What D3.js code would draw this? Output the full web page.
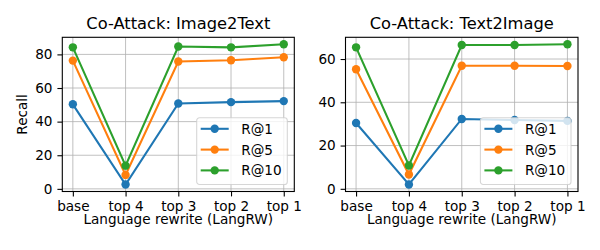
<!DOCTYPE html>
<html>
<head>
<meta charset="utf-8">
<script src="https://cdn.jsdelivr.net/npm/d3@7"></script>
<style>
  body { margin: 0; background: #fff; }
  text { font-family: "DejaVu Sans", sans-serif; fill: #000; }
</style>
</head>
<body>
<div id="chart"></div>
<script>
// data
var steps = ["base", "top 4", "top 3", "top 2", "top 1"];
var seriesNames = ["R@1", "R@5", "R@10"];
var colors = ["#1f77b4", "#ff7f0e", "#2ca02c"];

var i2tR1 = [50.3, 2.6, 50.8, 51.6, 52.2];
var i2tR5 = [76.3, 8.3, 75.8, 76.5, 78.3];
var i2tR10 = [84.2, 13.8, 84.7, 84.2, 86.0];
var i2tTicks = [0, 20, 40, 60, 80];

var t2iR1 = [30.4, 2.0, 32.3, 31.8, 31.4];
var t2iR5 = [55.3, 6.6, 56.9, 56.9, 56.8];
var t2iR10 = [65.4, 10.8, 66.5, 66.5, 66.8];
var t2iTicks = [0, 20, 40, 60];

var svgWidth = 600;
var svgHeight = 250;

var svg = d3.select("#chart")
  .append("svg")
  .attr("width", svgWidth)
  .attr("height", svgHeight);

var panelTop = 37.3;
var panelBottom = 191.5;

function drawPanel(left, right, title, data, ticks, showYLabel) {
  var all = d3.merge(data);
  var ext = d3.extent(all);
  var pad = (ext[1] - ext[0]) * 0.05; // matplotlib-ish margins

  var x = d3.scaleLinear().domain([-0.2, steps.length - 1 + 0.2]).range([left, right]);
  var y = d3.scaleLinear().domain([ext[0] - pad, ext[1] + pad]).range([panelBottom, panelTop]);

  var g = svg.append("g");

  // grid
  g.append("g").selectAll("line.vg")
    .data(steps)
    .enter().append("line")
    .attr("x1", (d, i) => x(i)).attr("x2", (d, i) => x(i))
    .attr("y1", panelTop).attr("y2", panelBottom)
    .attr("stroke", "#b0b0b0").attr("stroke-width", 0.8);
  g.append("g").selectAll("line.hg")
    .data(ticks)
    .enter().append("line")
    .attr("x1", left).attr("x2", right)
    .attr("y1", d => y(d)).attr("y2", d => y(d))
    .attr("stroke", "#b0b0b0").attr("stroke-width", 0.8);

  // axes
  var xAxis = d3.axisBottom(x)
    .tickValues(d3.range(steps.length))
    .tickFormat(i => steps[i])
    .tickSize(4.9).tickPadding(5.2);
  var yAxis = d3.axisLeft(y)
    .tickValues(ticks)
    .tickSize(4.9).tickPadding(4.9);

  var gx = g.append("g")
    .attr("transform", `translate(0, ${panelBottom})`)
    .call(xAxis);
  var gy = g.append("g")
    .attr("transform", `translate(${left}, 0)`)
    .call(yAxis);
  [gx, gy].forEach(function(a) {
    a.select(".domain").remove();
    a.selectAll(".tick line").attr("stroke", "#000").attr("stroke-width", 1.1);
    a.selectAll(".tick text")
      .style("font-family", "DejaVu Sans")
      .style("font-size", "13.6px")
      .attr("fill", "#000");
  });

  // lines + markers
  var line = d3.line().x((d, i) => x(i)).y(d => y(d));
  data.forEach(function(vals, k) {
    g.append("path")
      .datum(vals)
      .attr("d", line)
      .attr("fill", "none")
      .attr("stroke", colors[k])
      .attr("stroke-width", 2.08);
    g.append("g").selectAll("circle")
      .data(vals)
      .enter().append("circle")
      .attr("cx", (d, i) => x(i))
      .attr("cy", d => y(d))
      .attr("r", 4.2)
      .attr("fill", colors[k]);
  });

  // frame
  g.append("rect")
    .attr("x", left).attr("y", panelTop)
    .attr("width", right - left).attr("height", panelBottom - panelTop)
    .attr("fill", "none").attr("stroke", "#000").attr("stroke-width", 1.1);

  // title + labels
  g.append("text")
    .attr("x", (left + right) / 2).attr("y", 29)
    .attr("text-anchor", "middle")
    .style("font-size", "16.3px")
    .text(title);
  g.append("text")
    .attr("x", (left + right) / 2).attr("y", 224)
    .attr("text-anchor", "middle")
    .style("font-size", "13.6px")
    .text("Language rewrite (LangRW)");
  if (showYLabel) {
    g.append("text")
      .attr("transform", `translate(26.5, ${(panelTop + panelBottom) / 2}) rotate(-90)`)
      .attr("text-anchor", "middle")
      .style("font-size", "13.6px")
      .text("Recall");
  }

  // legend, lower right
  var lw = 90.6, lh = 66.7;
  var lx = right - 7 - lw, ly = panelBottom - 7 - lh;
  var leg = g.append("g").attr("transform", `translate(${lx}, ${ly})`);
  leg.append("rect")
    .attr("width", lw).attr("height", lh)
    .attr("rx", 2.8)
    .attr("fill", "#fff").attr("fill-opacity", 0.8)
    .attr("stroke", "#cccccc").attr("stroke-opacity", 0.8).attr("stroke-width", 1.1);
  seriesNames.forEach(function(name, k) {
    var cy = 11 + k * 20.8;
    leg.append("line")
      .attr("x1", 4).attr("x2", 32)
      .attr("y1", cy).attr("y2", cy)
      .attr("stroke", colors[k]).attr("stroke-width", 2.08);
    leg.append("circle")
      .attr("cx", 18).attr("cy", cy).attr("r", 4.2)
      .attr("fill", colors[k]);
    leg.append("text")
      .attr("x", 44.5).attr("y", cy + 5)
      .style("font-size", "13.6px")
      .text(name);
  });
}

drawPanel(62.3, 294.3, "Co-Attack: Image2Text", [i2tR1, i2tR5, i2tR10], i2tTicks, true);
drawPanel(345.5, 578, "Co-Attack: Text2Image", [t2iR1, t2iR5, t2iR10], t2iTicks, false);
</script>
</body>
</html>
